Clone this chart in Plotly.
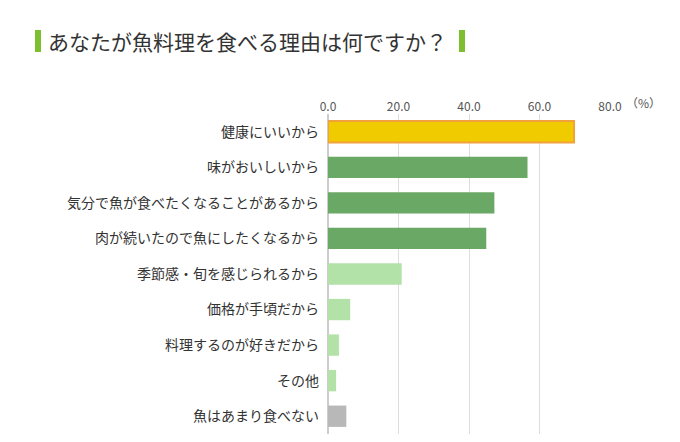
import plotly.graph_objects as go

reasons = ["健康にいいから", "味がおいしいから", "気分で魚が食べたくなることがあるから",
           "肉が続いたので魚にしたくなるから", "季節感・旬を感じられるから", "価格が手頃だから",
           "料理するのが好きだから", "その他", "魚はあまり食べない"]
percent = [69.8, 56.6, 47.2, 44.9, 20.9, 6.3, 3.1, 2.3, 5.2]
colors = ["#efcb00"] + ["#6aa866"] * 3 + ["#b2e2a8"] * 4 + ["#b8b8b8"]
borders = ["#f2a23c"] + colors[1:]
border_w = [2] + [0] * 8

font = "Noto Sans CJK JP"
L, R, T, B = 320, 78, 106, 16
pw, ph = 680 - L - R, 442 - T - B


def px(x):
    return (x - L) / pw


def py(y):
    return 1 + (T - y) / ph


fig = go.Figure(go.Bar(
    x=percent, y=reasons, orientation="h",
    marker=dict(color=colors, line=dict(color=borders, width=border_w)),
    width=0.6,
))

fig.update_layout(
    width=680, height=442,
    margin=dict(l=L, r=R, t=T, b=B, autoexpand=False),
    paper_bgcolor="white", plot_bgcolor="white",
    font=dict(family=font, size=14, color="#333333"),
    showlegend=False,
    xaxis=dict(range=[0, 80], dtick=20, tickformat=".1f", side="top",
               showgrid=True, gridcolor="#dddddd", gridwidth=1,
               zeroline=True, zerolinecolor="#cccccc",
               tickfont=dict(size=12, color="#555555"), ticks=""),
    yaxis=dict(autorange="reversed", ticks="", ticklabelstandoff=8,
               tickfont=dict(size=14, color="#333333")),
)

fig.add_annotation(text="（%）", xref="paper", yref="paper", x=1.0, y=1.0,
                   xanchor="left", yanchor="bottom", xshift=14, yshift=1, showarrow=False,
                   font=dict(size=12, color="#555555"))

fig.add_annotation(text="あなたが魚料理を食べる理由は何ですか？", xref="paper", yref="paper",
                   x=px(38), y=py(33), xanchor="left", yanchor="middle",
                   showarrow=False,
                   font=dict(size=21, color="#333333", family=font))

for x0 in (27, 451):
    fig.add_shape(type="rect", xref="paper", yref="paper",
                  x0=px(x0), x1=px(x0 + 6), y0=py(44), y1=py(22),
                  fillcolor="#7dbf2e", line=dict(width=0))

fig.write_html("out.html")
